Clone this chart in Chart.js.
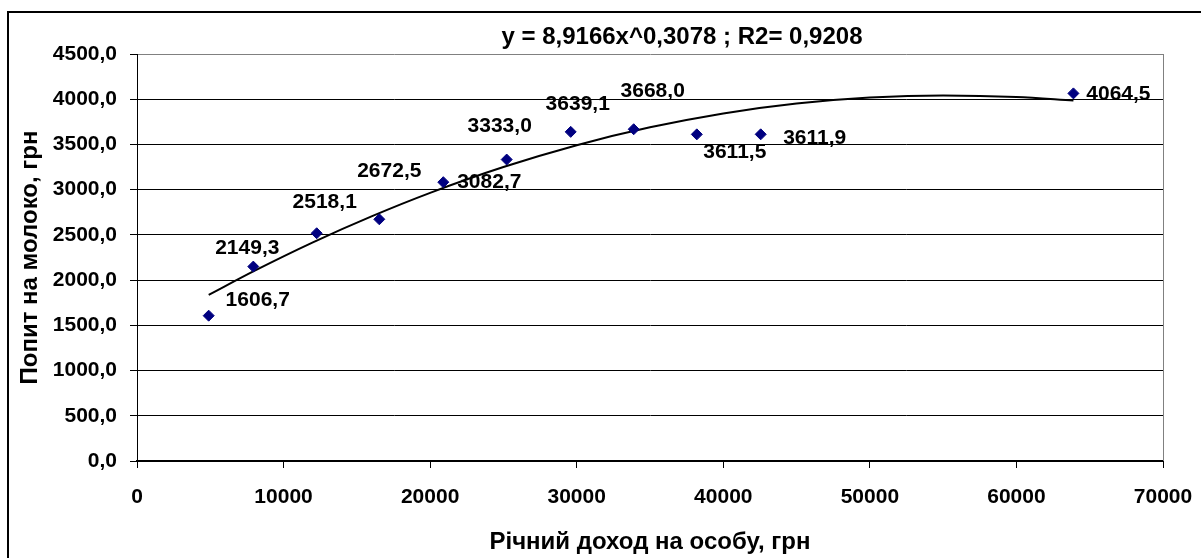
<!DOCTYPE html>
<html>
<head>
<meta charset="utf-8">
<script src="https://cdn.jsdelivr.net/npm/chart.js@4"></script>
<style>
	html, body { margin: 0; padding: 0; background: #fff; }
	#wrap { position: relative; width: 1201px; height: 558px; }
</style>
</head>
<body>
<div id="wrap"><canvas id="chart"></canvas></div>
<script>
// income per person (x) and milk demand (y)
const incomeValues = [4892, 7935, 12260, 16531, 20897, 25223, 29590, 33888, 38193, 42553, 63888];
const demandValues = [1606.7, 2149.3, 2518.1, 2672.5, 3082.7, 3333.0, 3639.1, 3668.0, 3611.5, 3611.9, 4064.5];

// trend curve as drawn on the picture
const trendX = [4892, 8000, 12000, 16000, 20000, 25000, 30000, 35000, 40000, 45000, 50000, 55000, 60000, 63888];
const trendY = [1837, 2102, 2418, 2705, 2965, 3250, 3492, 3689, 3843, 3952, 4018, 4042, 4025, 3985];

const xTicks = [0, 10000, 20000, 30000, 40000, 50000, 60000, 70000];
const yTicks = [0, 500, 1000, 1500, 2000, 2500, 3000, 3500, 4000, 4500];

const titleText = `y = 8,9166x^0,3078 ; R2= 0,9208`;
const xTitle = `Річний доход на особу, грн`;
const yTitle = `Попит на молоко, грн`;

// where each value label sits relative to its marker (px)
const labelShift = [[49, -15], [-6, -18], [8, -31], [10, -48], [46, 0], [-7, -33], [7, -28], [19, -38], [38, 18], [54, 4], [45, 1]];

const FONT = `"Liberation Sans", Arial, sans-serif`;
Chart.defaults.font.family = FONT;
Chart.defaults.font.weight = `bold`;
Chart.defaults.color = `#000`;

const fmtComma = v => v.toFixed(1).replace(`.`, `,`);

const decorations = {
	id: `decorations`,
	beforeDraw(chart) {
		const {ctx} = chart;
		ctx.save();
		ctx.strokeStyle = `#000`;
		ctx.lineWidth = 2;
		ctx.beginPath();
		ctx.moveTo(8, chart.height + 5);
		ctx.lineTo(8, 12);
		ctx.lineTo(chart.width + 5, 12);
		ctx.stroke();
		ctx.restore();
	},
	beforeDatasetsDraw(chart) {
		const {ctx, chartArea} = chart;
		ctx.save();
		// right edge of plot frame
		ctx.strokeStyle = `#808080`;
		ctx.lineWidth = 1;
		ctx.beginPath();
		ctx.moveTo(chartArea.right + 0.5, chartArea.top);
		ctx.lineTo(chartArea.right + 0.5, chartArea.bottom);
		ctx.stroke();

		// value labels
		const meta = chart.getDatasetMeta(0);
		ctx.font = `bold 21px ${FONT}`;
		ctx.fillStyle = `#000`;
		ctx.textAlign = `center`;
		ctx.textBaseline = `middle`;
		meta.data.forEach((pt, i) => {
			const [dx, dy] = labelShift[i];
			ctx.fillText(fmtComma(demandValues[i]), pt.x + dx, pt.y + dy);
		});

		// equation title
		ctx.font = `bold 24px ${FONT}`;
		ctx.fillText(titleText, (chartArea.left + chartArea.right) / 2 + 32, 37);
		ctx.restore();
	}
};

new Chart(document.getElementById(`chart`), {
	type: `scatter`,
	data: {
		datasets: [
			{
				label: `Попит`,
				data: incomeValues.map((x, i) => ({x, y: demandValues[i]})),
				pointStyle: `rectRot`,
				pointRadius: 5.5,
				backgroundColor: `#000080`,
				borderColor: `#000080`,
				borderWidth: 1,
				showLine: false
			},
			{
				label: `Тренд`,
				data: trendX.map((x, i) => ({x, y: trendY[i]})),
				showLine: true,
				pointRadius: 0,
				borderColor: `#000`,
				borderWidth: 2,
				cubicInterpolationMode: `monotone`,
				fill: false
			}
		]
	},
	options: {
		responsive: true,
		maintainAspectRatio: false,
		animation: false,
		layout: {
			padding: {top: 54, right: 38, bottom: 0, left: 0}
		},
		plugins: {
			legend: {display: false},
			tooltip: {enabled: false},
			title: {display: false}
		},
		scales: {
			x: {
				type: `linear`,
				min: xTicks[0],
				max: xTicks[xTicks.length - 1],
				afterBuildTicks: scale => { scale.ticks = xTicks.map(value => ({value})); },
				afterFit: scale => {
					scale.height = 97;
					scale.paddingRight = 30;
				},
				ticks: {
					callback: v => String(v),
					font: {size: 21, weight: `bold`},
					padding: 17,
					maxRotation: 0
				},
				grid: {
					drawOnChartArea: false,
					tickLength: 7,
					tickColor: `#000`
				},
				border: {color: `#000`, width: 2},
				title: {
					display: true,
					text: xTitle,
					font: {size: 24, weight: `bold`},
					padding: {top: 0, bottom: 1}
				}
			},
			y: {
				type: `linear`,
				min: yTicks[0],
				max: yTicks[yTicks.length - 1],
				afterBuildTicks: scale => { scale.ticks = yTicks.map(value => ({value})); },
				afterFit: scale => { scale.width = 137; },
				ticks: {
					callback: v => fmtComma(v),
					font: {size: 21, weight: `bold`},
					padding: 13
				},
				grid: {
					color: c => (c.tick && c.tick.value === 4500 ? `#808080` : `#000`),
					tickColor: `#000`,
					tickLength: 7,
					lineWidth: 1
				},
				border: {color: `#000`, width: 1},
				title: {
					display: true,
					text: yTitle,
					font: {size: 24, weight: `bold`},
					padding: {top: 16, bottom: 0}
				}
			}
		}
	},
	plugins: [decorations]
});
</script>
</body>
</html>
